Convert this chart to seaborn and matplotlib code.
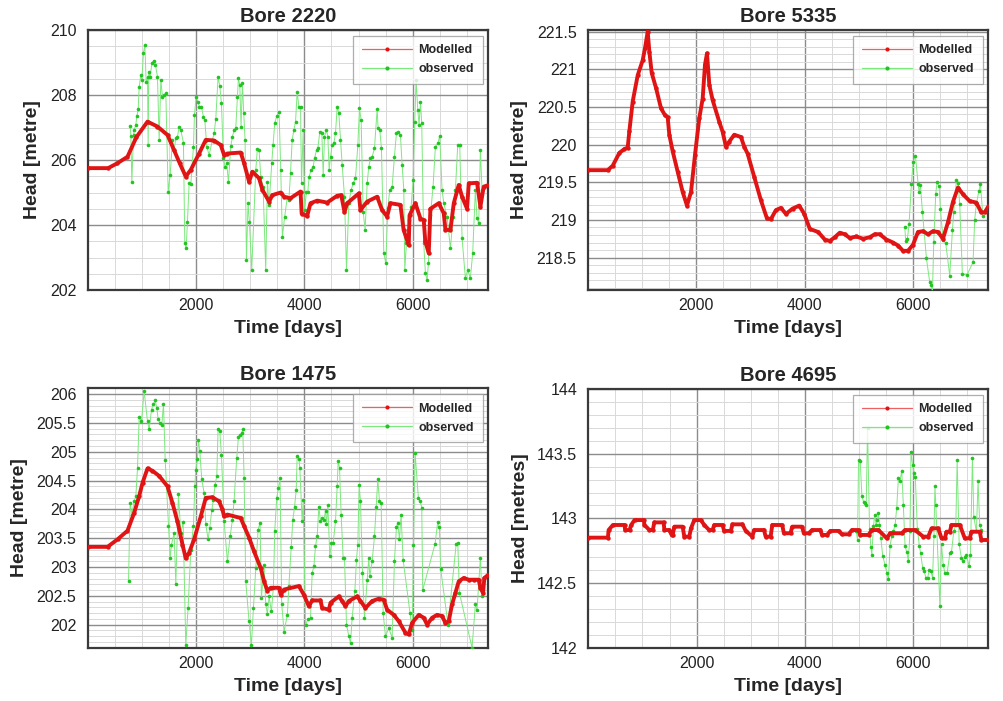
import matplotlib
matplotlib.use("Agg")
import matplotlib.pyplot as plt
import seaborn as sns
from matplotlib.lines import Line2D
from matplotlib.ticker import MultipleLocator, FixedLocator, FuncFormatter

# ---------------- Bore 2220 ----------------
bore2220_model_day = [0, 380, 550, 737, 900, 1106, 1290, 1475, 1597, 1700, 1812, 1905, 2058, 2181,
                      2335, 2458, 2519, 2580, 2826, 2888, 2980, 3041, 3164, 3226, 3349, 3410, 3564,
                      3625, 3740, 3929, 3950, 4052, 4113, 4236, 4420, 4605, 4680, 4740, 4789, 5004,
                      5035, 5158, 5342, 5434, 5526, 5588, 5772, 5830, 5925, 5940, 6048, 6141, 6202,
                      6230, 6294, 6325, 6479, 6571, 6602, 6694, 6756, 6847, 6909, 7001, 7032, 7185,
                      7247, 7308, 7400]
bore2220_model_head = [205.75, 205.75, 205.9, 206.1, 206.7, 207.18, 207.03, 206.77, 206.3, 205.9,
                       205.49, 205.7, 206.2, 206.62, 206.6, 206.46, 206.15, 206.2, 206.23, 205.9,
                       205.33, 205.64, 205.44, 205.08, 204.72, 204.92, 205.0, 204.87, 204.82,
                       205.03, 204.35, 204.28, 204.67, 204.75, 204.69, 204.9, 204.92, 204.4, 204.67,
                       204.97, 204.46, 204.72, 204.87, 204.46, 204.26, 204.67, 204.62, 203.85,
                       203.38, 204.3, 204.67, 204.2, 204.15, 203.5, 203.13, 204.5, 204.67, 204.36,
                       203.85, 203.85, 204.67, 205.23, 204.87, 204.5, 205.28, 205.3, 204.56,
                       205.18, 205.23]
bore2220_obs_day = [786, 799, 817, 848, 860, 891, 909, 934, 952, 983, 1001, 1032, 1057, 1081, 1106,
                    1118, 1130, 1155, 1186, 1217, 1253, 1290, 1321, 1352, 1382, 1413, 1444, 1487,
                    1524, 1567, 1597, 1628, 1659, 1690, 1720, 1769, 1794, 1819, 1843, 1874, 1905,
                    1954, 1972, 2003, 2034, 2064, 2101, 2138, 2163, 2200, 2243, 2304, 2335, 2365,
                    2408, 2439, 2470, 2507, 2537, 2568, 2599, 2642, 2673, 2703, 2734, 2765, 2783,
                    2808, 2832, 2857, 2881, 2906, 2931, 2961, 2986, 3029, 3103, 3133, 3164, 3195,
                    3238, 3287, 3318, 3349, 3398, 3422, 3453, 3490, 3533, 3564, 3594, 3637, 3686,
                    3714, 3744, 3775, 3806, 3837, 3867, 3898, 3929, 3947, 3978, 4003, 4039, 4064,
                    4088, 4125, 4162, 4187, 4224, 4248, 4285, 4322, 4347, 4371, 4408, 4433, 4457,
                    4482, 4512, 4543, 4574, 4605, 4635, 4666, 4697, 4740, 4777, 4820, 4863, 4900,
                    4943, 4986, 5016, 5047, 5084, 5121, 5158, 5188, 5219, 5250, 5293, 5342, 5360,
                    5391, 5422, 5465, 5502, 5539, 5575, 5619, 5661, 5698, 5729, 5772, 5803, 5834,
                    5852, 5883, 5907, 5932, 5969, 6006, 6036, 6061, 6092, 6116, 6141, 6165, 6202,
                    6233, 6264, 6288, 6325, 6374, 6417, 6460, 6497, 6540, 6571, 6632, 6694, 6743,
                    6786, 6829, 6866, 6909, 6970, 7013, 7062, 7105, 7154, 7185, 7216, 7247, 7277]
bore2220_obs_head = [207.05, 206.74, 205.33, 206.77, 206.92, 207.08, 207.35, 207.56, 208.24, 208.62,
                     208.46, 209.30, 209.54, 208.41, 208.56, 206.46, 208.72, 208.56, 208.97, 209.06,
                     208.92, 208.56, 206.62, 208.46, 207.95, 208.0, 208.05, 205.03, 205.54, 206.62,
                     206.31, 206.67, 206.72, 207.03, 206.92, 206.53, 203.44, 203.28, 204.10, 205.28,
                     205.26, 206.41, 207.38, 207.95, 207.79, 207.64, 207.64, 207.33, 207.23, 206.41,
                     206.15, 206.62, 206.82, 207.25, 208.56, 208.28, 207.74, 206.05, 205.79, 205.90,
                     205.31, 206.43, 206.72, 206.92, 206.97, 207.95, 208.51, 208.31, 207.03, 208.36,
                     207.44, 206.62, 202.92, 204.67, 204.10, 202.62, 205.69, 206.34, 206.31, 205.49,
                     205.18, 202.62, 205.33, 204.62, 205.90, 206.46, 207.13, 207.35, 207.49, 205.69,
                     203.64, 204.26, 204.87, 204.77, 205.59, 206.62, 206.92, 207.18, 208.10, 207.64,
                     207.64, 205.28, 206.92, 204.46, 205.03, 205.03, 205.49, 205.69, 205.79, 206.05,
                     206.31, 206.36, 206.87, 206.82, 205.54, 206.72, 206.92, 206.72, 205.69, 206.10,
                     206.46, 206.51, 206.82, 207.64, 207.44, 206.62, 205.85, 204.87, 202.62, 204.67,
                     205.08, 205.28, 205.44, 206.46, 207.59, 207.23, 204.41, 203.85, 205.28, 205.79,
                     206.05, 206.10, 206.36, 207.56, 206.97, 206.92, 206.36, 203.13, 202.82, 204.51,
                     205.08, 205.18, 206.10, 206.82, 206.87, 206.77, 205.85, 205.08, 202.62, 203.44,
                     203.85, 204.15, 204.56, 205.38, 207.18, 208.46, 207.54, 207.08, 207.79, 207.13,
                     203.44, 202.51, 202.31, 202.82, 204.31, 205.18, 206.41, 206.51, 206.74, 205.08,
                     204.67, 204.26, 203.28, 204.26, 205.08, 206.46, 206.46, 203.59, 202.36, 202.62,
                     202.36, 203.13, 205.08, 204.21, 204.05, 206.31, 205.08]

# ---------------- Bore 5335 ----------------
bore5335_model_day = [0, 369, 461, 584, 676, 737, 768, 829, 922, 1014, 1057, 1106, 1137, 1180, 1260,
                      1352, 1425, 1475, 1505, 1567, 1659, 1751, 1831, 1905, 1978, 2058, 2120, 2163,
                      2200, 2243, 2304, 2427, 2488, 2550, 2611, 2703, 2826, 2888, 2949, 3072, 3195,
                      3306, 3379, 3471, 3564, 3656, 3779, 3901, 3994, 4097, 4250, 4373, 4465, 4557,
                      4649, 4741, 4834, 4956, 5079, 5202, 5294, 5386, 5509, 5632, 5724, 5816, 5908,
                      6000, 6092, 6185, 6277, 6369, 6461, 6553, 6646, 6738, 6830, 6922, 7045, 7168,
                      7260, 7322, 7400]
bore5335_model_head = [219.66, 219.66, 219.72, 219.89, 219.94, 219.96, 220.18, 220.57, 220.92,
                       221.12, 221.28, 221.5, 221.23, 220.95, 220.75, 220.48, 220.39, 220.36,
                       220.13, 219.91, 219.64, 219.37, 219.19, 219.37, 219.86, 220.35, 220.61,
                       221.06, 221.21, 220.79, 220.59, 220.30, 220.17, 219.97, 220.04, 220.13,
                       220.10, 219.97, 219.88, 219.57, 219.26, 219.02, 219.01, 219.13, 219.16,
                       219.08, 219.15, 219.19, 219.08, 218.88, 218.84, 218.74, 218.72, 218.77,
                       218.83, 218.81, 218.76, 218.78, 218.75, 218.77, 218.81, 218.81, 218.74,
                       218.70, 218.66, 218.59, 218.59, 218.67, 218.84, 218.85, 218.81, 218.85,
                       218.84, 218.75, 218.97, 219.24, 219.43, 219.34, 219.25, 219.23, 219.10,
                       219.10, 219.19]
bore5335_obs_day = [5848, 5866, 5897, 5928, 5971, 6002, 6045, 6094, 6113, 6137, 6174, 6248, 6309,
                    6340, 6359, 6383, 6420, 6444, 6481, 6506, 6555, 6604, 6678, 6727, 6752, 6801,
                    6832, 6862, 6911, 6997, 7108, 7138, 7169, 7218, 7243, 7290]
bore5335_obs_head = [218.91, 218.72, 218.75, 218.95, 219.48, 219.77, 219.85, 219.48, 219.37,
                     219.46, 219.11, 218.49, 218.17, 218.13, 218.04, 218.71, 219.35, 219.50,
                     219.45, 219.15, 218.73, 218.69, 218.26, 218.86, 219.11, 219.53, 219.49,
                     219.21, 218.28, 218.27, 218.44, 219.00, 219.21, 219.39, 219.48, 219.05]

# ---------------- Bore 1475 ----------------
bore1475_model_day = [0, 369, 553, 737, 860, 952, 1014, 1106, 1198, 1321, 1475, 1567, 1659, 1751,
                      1812, 1874, 1966, 2089, 2181, 2304, 2427, 2488, 2519, 2580, 2826, 2888, 2980,
                      3072, 3195, 3256, 3318, 3379, 3533, 3564, 3625, 3898, 3990, 4082, 4144, 4297,
                      4328, 4451, 4482, 4635, 4697, 4758, 4820, 4973, 5035, 5127, 5250, 5373, 5465,
                      5526, 5649, 5741, 5864, 5926, 5987, 6110, 6202, 6264, 6356, 6448, 6540, 6602,
                      6663, 6724, 6786, 6847, 6939, 7032, 7124, 7216, 7247, 7296, 7320, 7400]
bore1475_model_head = [203.35, 203.35, 203.48, 203.63, 203.94, 204.23, 204.46, 204.71, 204.67,
                       204.58, 204.40, 204.11, 203.79, 203.39, 203.15, 203.25, 203.48, 203.88,
                       204.20, 204.21, 204.14, 204.0, 203.88, 203.91, 203.85, 203.71, 203.51,
                       203.27, 202.98, 202.75, 202.59, 202.64, 202.64, 202.52, 202.61, 202.67,
                       202.52, 202.32, 202.42, 202.42, 202.29, 202.26, 202.38, 202.49, 202.41,
                       202.32, 202.41, 202.49, 202.41, 202.29, 202.41, 202.45, 202.43, 202.26,
                       202.17, 202.06, 201.86, 201.83, 202.03, 202.17, 202.12, 202.0, 202.12,
                       202.17, 202.15, 202.03, 202.06, 202.35, 202.55, 202.75, 202.81, 202.78,
                       202.78, 202.78, 202.64, 202.55, 202.81, 202.87]
bore1475_obs_day = [756, 786, 817, 860, 891, 922, 952, 995, 1044, 1106, 1137, 1180, 1210, 1247, 1278,
                    1303, 1339, 1370, 1401, 1432, 1493, 1524, 1548, 1597, 1628, 1677, 1720, 1763,
                    1812, 1855, 1905, 1954, 1978, 1997, 2027, 2046, 2070, 2107, 2150, 2181, 2224,
                    2255, 2292, 2322, 2353, 2384, 2408, 2439, 2470, 2519, 2580, 2630, 2673, 2703,
                    2752, 2783, 2814, 2845, 2863, 2888, 2918, 2980, 3023, 3060, 3103, 3146, 3183,
                    3207, 3256, 3287, 3318, 3349, 3391, 3428, 3453, 3490, 3521, 3551, 3582, 3625,
                    3686, 3714, 3757, 3787, 3818, 3849, 3867, 3898, 3916, 3959, 3978, 4021, 4064,
                    4113, 4144, 4175, 4205, 4236, 4267, 4297, 4328, 4359, 4390, 4408, 4433, 4469,
                    4500, 4531, 4574, 4605, 4623, 4648, 4678, 4715, 4740, 4777, 4820, 4851, 4881,
                    4931, 4961, 4986, 5010, 5035, 5072, 5109, 5158, 5188, 5207, 5250, 5293, 5324,
                    5354, 5385, 5416, 5453, 5496, 5557, 5619, 5661, 5698, 5723, 5754, 5784, 5821,
                    5950, 5990, 6012, 6042, 6103, 6134, 6165, 6183, 6410, 6460, 6490, 6514, 6650,
                    6800, 6830, 6860, 7093, 7154, 7185, 7247, 7277]
bore1475_obs_head = [202.76, 204.11, 203.91, 204.14, 204.23, 204.72, 205.60, 205.53, 206.05, 205.53,
                     205.39, 205.73, 205.82, 205.89, 205.76, 205.56, 205.50, 205.47, 205.83, 204.86,
                     203.72, 203.16, 203.39, 203.59, 202.71, 204.26, 203.59, 203.78, 201.65, 202.29,
                     203.30, 203.72, 204.40, 204.69, 204.87, 205.21, 205.02, 204.52, 204.29, 203.74,
                     203.48, 203.68, 203.99, 204.17, 204.43, 204.58, 205.39, 205.36, 204.95, 203.79,
                     203.10, 203.53, 203.82, 204.15, 204.89, 205.25, 205.29, 205.33, 205.39, 204.55,
                     202.75, 202.06, 201.65, 202.29, 202.98, 203.65, 203.77, 202.46, 203.04, 202.35,
                     202.19, 202.49, 202.23, 202.64, 203.62, 204.20, 204.37, 204.55, 202.35, 201.88,
                     202.17, 202.67, 203.34, 203.82, 204.04, 204.33, 204.92, 204.88, 204.72, 203.79,
                     204.17, 202.0, 202.09, 202.12, 202.90, 203.01, 203.36, 203.53, 204.05, 203.79,
                     203.85, 203.82, 203.97, 203.74, 204.07, 203.19, 203.42, 203.42, 203.79, 204.40,
                     204.84, 204.72, 203.91, 203.16, 203.16, 202.0, 201.80, 201.68, 202.12, 202.58,
                     203.13, 203.39, 204.43, 204.14, 202.90, 202.12, 202.78, 203.16, 202.84, 203.10,
                     203.53, 204.05, 204.52, 204.15, 204.11, 202.20, 201.80, 201.94, 201.77, 203.10,
                     203.69, 203.77, 203.48, 203.91, 203.13, 202.2, 201.9, 203.38, 204.98, 204.2,
                     204.15, 204.03, 202.6, 203.4, 203.78, 203.69, 202.97, 202.0, 203.4, 203.42,
                     202.55, 201.6, 202.35, 202.26, 203.16, 202.49]

# ---------------- Bore 4695 ----------------
bore4695_model_day = [0, 362, 374, 454, 669, 681, 761, 791, 853, 1024, 1037, 1128, 1190, 1220, 1392,
                      1404, 1496, 1539, 1558, 1589, 1742, 1773, 1865, 1896, 1957, 2080, 2141, 2233,
                      2295, 2325, 2479, 2509, 2632, 2663, 2847, 2908, 3031, 3061, 3245, 3276, 3368,
                      3398, 3582, 3613, 3735, 3766, 3950, 3980, 4072, 4133, 4287, 4317, 4409, 4471,
                      4624, 4685, 4808, 4869, 4992, 5023, 5176, 5238, 5360, 5514, 5575, 5790, 5851,
                      6035, 6188, 6280, 6341, 6464, 6525, 6587, 6617, 6679, 6709, 6863, 6955, 7047,
                      7077, 7231, 7262, 7400]
bore4695_model_head = [142.851, 142.851, 142.910, 142.949, 142.949, 142.910, 142.910, 142.949,
                       142.987, 142.987, 142.949, 142.910, 142.910, 142.969, 142.969, 142.910,
                       142.910, 142.872, 142.872, 142.936, 142.936, 142.859, 142.859, 142.923,
                       142.987, 142.987, 142.949, 142.910, 142.910, 142.949, 142.949, 142.903,
                       142.903, 142.954, 142.954, 142.903, 142.859, 142.910, 142.910, 142.859,
                       142.859, 142.949, 142.949, 142.885, 142.885, 142.936, 142.936, 142.885,
                       142.885, 142.910, 142.910, 142.872, 142.872, 142.903, 142.903, 142.877,
                       142.877, 142.910, 142.910, 142.872, 142.872, 142.910, 142.910, 142.846,
                       142.885, 142.885, 142.910, 142.910, 142.859, 142.859, 142.923, 142.923,
                       142.846, 142.846, 142.897, 142.897, 142.949, 142.949, 142.846, 142.846,
                       142.897, 142.897, 142.833, 142.833]
bore4695_obs_day = [4950, 4974, 4992, 5023, 5054, 5084, 5115, 5134, 5158, 5195, 5219, 5237, 5268,
                    5292, 5317, 5341, 5360, 5378, 5403, 5439, 5482, 5513, 5544, 5575, 5605, 5636,
                    5667, 5697, 5728, 5759, 5790, 5820, 5851, 5882, 5912, 5943, 5961, 5992, 6017,
                    6041, 6078, 6115, 6139, 6176, 6207, 6237, 6268, 6299, 6329, 6360, 6385, 6403,
                    6420, 6495, 6525, 6556, 6587, 6630, 6679, 6709, 6752, 6789, 6814, 6851, 6894,
                    6924, 6955, 6986, 7035, 7059, 7096, 7121, 7170, 7200, 7231, 7262]
bore4695_obs_head = [142.90, 142.83, 143.45, 143.44, 143.17, 143.13, 143.12, 143.10, 143.70, 142.92,
                     142.78, 142.72, 142.94, 143.03, 142.95, 142.99, 143.04, 142.95, 142.85, 142.71,
                     142.64, 142.58, 142.53, 142.79, 142.86, 142.90, 142.95, 143.08, 143.31, 143.29,
                     143.37, 143.10, 142.79, 142.74, 142.67, 142.90, 143.51, 143.41, 143.35, 143.32,
                     142.92, 142.79, 142.73, 142.62, 142.59, 142.54, 142.54, 142.60, 142.59, 142.54,
                     142.86, 143.25, 143.10, 142.32, 142.80, 142.64, 142.58, 142.58, 142.73, 142.74,
                     142.90, 142.95, 143.45, 142.80, 142.69, 142.67, 142.70, 142.72, 142.63, 142.72,
                     143.47, 143.01, 142.90, 143.29, 142.95, 142.91]

x_ticks = [2000, 4000, 6000]

sns.set_theme(style="white")
plt.rcParams['font.family'] = ['Liberation Sans', 'DejaVu Sans']

RED = "#e01414"
GREEN_LINE = "#7de87d"
GREEN_MARK = "#22c422"

panels = [
    dict(title="Bore 2220", ylabel="Head [metre]", ylim=(202, 210), major=2, minor=0.5,
         rect=[0.0872, 0.5863, 0.3990, 0.3709],
         mday=bore2220_model_day, mhead=bore2220_model_head,
         oday=bore2220_obs_day, ohead=bore2220_obs_head),
    dict(title="Bore 5335", ylabel="Head [metre]", ylim=(218.07, 221.52), major=0.5, minor=0.1,
         rect=[0.5854, 0.5863, 0.3990, 0.3709],
         mday=bore5335_model_day, mhead=bore5335_model_head,
         oday=bore5335_obs_day, ohead=bore5335_obs_head),
    dict(title="Bore 1475", ylabel="Head [metre]", ylim=(201.6, 206.1), major=0.5, minor=0.1,
         rect=[0.0872, 0.0760, 0.3990, 0.3700],
         mday=bore1475_model_day, mhead=bore1475_model_head,
         oday=bore1475_obs_day, ohead=bore1475_obs_head),
    dict(title="Bore 4695", ylabel="Head [metres]", ylim=(142, 144), major=0.5, minor=0.1,
         rect=[0.5860, 0.0760, 0.3984, 0.3690],
         mday=bore4695_model_day, mhead=bore4695_model_head,
         oday=bore4695_obs_day, ohead=bore4695_obs_head),
]

fig = plt.figure(figsize=(10.04, 7.01), dpi=100)
fig.patch.set_facecolor("white")

fmt = FuncFormatter(lambda v, p: f"{v:g}")

for p in panels:
    ax = fig.add_axes(p["rect"])
    ax.set_facecolor("white")

    sns.lineplot(x=p["oday"], y=p["ohead"], ax=ax, sort=False, estimator=None,
                 color=GREEN_LINE, linewidth=0.7, marker="o", markersize=2.6,
                 markerfacecolor=GREEN_MARK, markeredgecolor=GREEN_MARK, markeredgewidth=0,
                 zorder=3)
    sns.lineplot(x=p["mday"], y=p["mhead"], ax=ax, sort=False, estimator=None,
                 color=RED, linewidth=2.8, marker="o", markersize=3.2,
                 markerfacecolor=RED, markeredgewidth=0, zorder=4)

    ax.set_xlim(0, 7390)
    ax.set_ylim(*p["ylim"])
    ax.xaxis.set_major_locator(FixedLocator(x_ticks))
    ax.xaxis.set_minor_locator(MultipleLocator(500))
    ax.yaxis.set_major_locator(MultipleLocator(p["major"]))
    ax.yaxis.set_minor_locator(MultipleLocator(p["minor"]))
    ax.yaxis.set_major_formatter(fmt)

    ax.grid(which="major", color="#8c8c8c", linewidth=1.0, zorder=1)
    ax.grid(which="minor", color="#d9d9d9", linewidth=0.7, zorder=0)
    ax.set_axisbelow(True)

    ax.tick_params(which="both", direction="in", colors="#333333", labelcolor="#222222",
                   labelsize=11.5)
    ax.tick_params(which="major", length=4, width=1.0)
    ax.tick_params(which="minor", length=2.5, width=0.8)
    ax.tick_params(axis="y", pad=8)
    ax.tick_params(axis="x", pad=6)

    for s in ax.spines.values():
        s.set_color("#3a3a3a")
        s.set_linewidth(1.6)
        s.set_visible(True)

    ax.set_title(p["title"], fontsize=14.5, fontweight="bold", pad=6)
    ax.set_xlabel("Time [days]", fontsize=14, fontweight="bold", labelpad=5)
    ax.set_ylabel(p["ylabel"], fontsize=14, fontweight="bold", labelpad=6)

    handles = [
        Line2D([], [], color="#f06060", linewidth=0.9, marker="o", markersize=3,
               markerfacecolor=RED, markeredgewidth=0),
        Line2D([], [], color=GREEN_LINE, linewidth=0.9, marker="o", markersize=3,
               markerfacecolor=GREEN_MARK, markeredgewidth=0),
    ]
    leg = ax.legend(handles, ["Modelled", "observed"], loc="upper right",
                    prop={"weight": "bold", "size": 9}, frameon=True, fancybox=False,
                    edgecolor="#9a9a9a", handlelength=4.0, borderaxespad=0.45,
                    labelspacing=0.55, borderpad=0.7, handletextpad=0.5)
    leg.get_frame().set_linewidth(0.9)
    leg.set_zorder(10)

fig.savefig("out.png", dpi=100, facecolor="white")
